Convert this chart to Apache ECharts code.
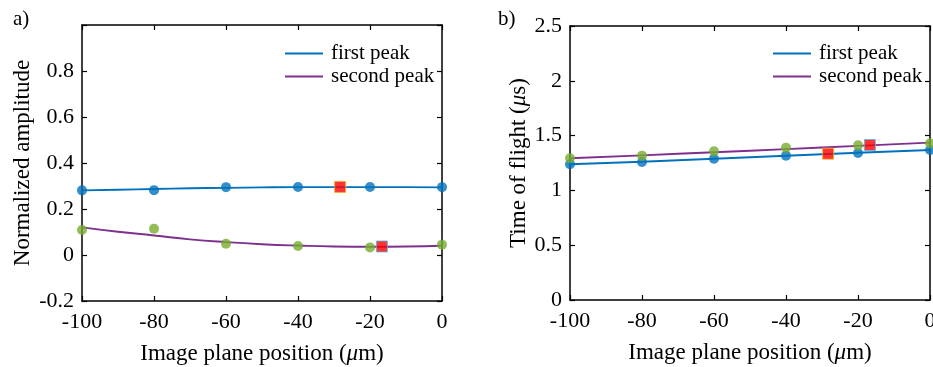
<!DOCTYPE html>
<html>
<head>
<meta charset="utf-8">
<script src="https://cdn.jsdelivr.net/npm/echarts@6/dist/echarts.min.js"></script>
<style>
  html, body { margin: 0; padding: 0; background: #fff; }
  #chart { width: 933px; height: 367px; }
</style>
</head>
<body>
<div id="chart"></div>
<script>
// positions in the image plane (um)
const positions = [-100, -80, -60, -40, -20, 0];
const fitPositions = [-100, -90, -80, -70, -60, -50, -40, -30, -20, -10, 0];

// a) normalized amplitude
const ampFirst = [0.281, 0.282, 0.295, 0.296, 0.296, 0.295];
const ampSecond = [0.109, 0.114, 0.049, 0.039, 0.033, 0.045];
const ampFirstFit = [0.281, 0.284, 0.287, 0.290, 0.292, 0.294, 0.295, 0.295, 0.295, 0.295, 0.294];
const ampSecondFit = [0.120, 0.101, 0.085, 0.068, 0.056, 0.047, 0.041, 0.037, 0.036, 0.037, 0.040];
const ampPicks = [[-28.3, 0.296], [-16.7, 0.037]];

// b) time of flight (us)
const tofFirst = [1.238, 1.259, 1.289, 1.317, 1.341, 1.369];
const tofSecond = [1.293, 1.317, 1.357, 1.390, 1.411, 1.430];
const tofFirstFit = [1.238, 1.262, 1.289, 1.316, 1.343, 1.369];
const tofSecondFit = [1.293, 1.320, 1.348, 1.377, 1.406, 1.436];
const tofPicks = [[-28.3, 1.335], [-16.7, 1.414]];

const seriesNames = ['first peak', 'second peak'];

const BLUE = '#0072BD';
const PURPLE = '#7E2F8E';
const GREEN = '#77AC30';
const RED = '#FF0000';
const FONT = 'Liberation Serif';

const zip = (xs, ys) => xs.map((x, i) => [x, ys[i]]);

const chart = echarts.init(document.getElementById('chart'));

const richName = {
  a: { fontFamily: FONT, fontSize: 23, color: '#000' },
  i: { fontFamily: FONT, fontSize: 23, color: '#000', fontStyle: 'italic' },
};

function xAxes(gridIndex) {
  const common = {
    type: 'value',
    gridIndex,
    min: -100,
    max: 0,
    interval: 20,
    splitLine: { show: false },
    axisLine: { onZero: false, lineStyle: { color: '#000', width: 1.5 } },
    axisTick: { inside: true, length: 5, lineStyle: { color: '#000', width: 1.2 } },
  };
  return [
    {
      ...common,
      position: 'bottom',
      axisLabel: { fontFamily: FONT, fontSize: 22, color: '#000', margin: 10 },
      name: '{a|Image plane position (}{i|μ}{a|m)}',
      nameLocation: 'middle',
      nameGap: 41,
      nameTextStyle: { rich: richName },
    },
    { ...common, position: 'top', axisLabel: { show: false } },
  ];
}

function yAxes(gridIndex, min, max, interval, name, nameGap, hideTop) {
  const common = {
    type: 'value',
    gridIndex,
    min,
    max,
    interval,
    splitLine: { show: false },
    axisLine: { onZero: false, lineStyle: { color: '#000', width: 1.5 } },
    axisTick: { inside: true, length: 5, lineStyle: { color: '#000', width: 1.2 } },
  };
  return [
    {
      ...common,
      position: 'left',
      axisLabel: {
        fontFamily: FONT, fontSize: 22, color: '#000', margin: 8,
        formatter: v => (hideTop && v === max ? '' : String(Math.round(v * 10) / 10)),
      },
      name,
      nameLocation: 'middle',
      nameGap,
      nameTextStyle: { rich: richName },
    },
    { ...common, position: 'right', axisLabel: { show: false } },
  ];
}

function lineSeries(name, data, color, xi, yi) {
  return {
    name,
    type: 'line',
    data,
    xAxisIndex: xi,
    yAxisIndex: yi,
    smooth: true,
    showSymbol: false,
    silent: true,
    lineStyle: { color, width: 1.9 },
    itemStyle: { color },
    z: 2,
  };
}

function dotSeries(data, color, xi, yi) {
  return {
    type: 'scatter',
    data,
    xAxisIndex: xi,
    yAxisIndex: yi,
    symbol: 'circle',
    symbolSize: 10,
    silent: true,
    itemStyle: { color },
    z: 3,
  };
}

function pickSeries(picks, xi, yi) {
  return {
    type: 'scatter',
    xAxisIndex: xi,
    yAxisIndex: yi,
    symbol: 'rect',
    symbolSize: 11,
    silent: true,
    data: [
      { value: picks[0], itemStyle: { color: RED, borderColor: '#EDB120', borderWidth: 1 } },
      { value: picks[1], itemStyle: { color: RED, borderColor: '#4DBEEE', borderWidth: 1 } },
    ],
    z: 4,
  };
}

function legend(left, top, seriesPrefix) {
  return {
    orient: 'vertical',
    left,
    top,
    itemWidth: 38,
    itemHeight: 2,
    itemGap: 2,
    icon: 'rect',
    selectedMode: false,
    textStyle: { fontFamily: FONT, fontSize: 21, color: '#000', padding: [0, 0, 0, 3] },
    data: seriesNames.map(n => seriesPrefix + n),
    formatter: n => n.replace(seriesPrefix, ''),
  };
}

const titleStyle = { fontFamily: FONT, fontSize: 21, fontWeight: 'normal', color: '#000' };

chart.setOption({
  animation: false,
  backgroundColor: '#fff',
  title: [
    { text: 'a)', left: 8, top: 4, textStyle: titleStyle },
    { text: 'b)', left: 493, top: 4, textStyle: titleStyle },
  ],
  grid: [
    { left: 82, top: 25, width: 360, height: 276, outerBoundsMode: 'none' },
    { left: 570, top: 26, width: 360, height: 274, outerBoundsMode: 'none' },
  ],
  legend: [legend(280, 38, ''), legend(768, 38, ' ')],
  xAxis: [...xAxes(0), ...xAxes(1)],
  yAxis: [
    ...yAxes(0, -0.2, 1, 0.2, '{a|Normalized amplitude}', 48, true),
    ...yAxes(1, 0, 2.5, 0.5, '{a|Time of flight (}{i|μ}{a|s)}', 35, false),
  ],
  series: [
    lineSeries(seriesNames[0], zip(fitPositions, ampFirstFit), BLUE, 0, 0),
    lineSeries(seriesNames[1], zip(fitPositions, ampSecondFit), PURPLE, 0, 0),
    dotSeries(zip(positions, ampFirst), BLUE, 0, 0),
    dotSeries(zip(positions, ampSecond), GREEN, 0, 0),
    pickSeries(ampPicks, 0, 0),
    lineSeries(' ' + seriesNames[0], zip(positions, tofFirstFit), BLUE, 2, 2),
    lineSeries(' ' + seriesNames[1], zip(positions, tofSecondFit), PURPLE, 2, 2),
    dotSeries(zip(positions, tofFirst), BLUE, 2, 2),
    dotSeries(zip(positions, tofSecond), GREEN, 2, 2),
    pickSeries(tofPicks, 2, 2),
  ],
});
</script>
</body>
</html>
